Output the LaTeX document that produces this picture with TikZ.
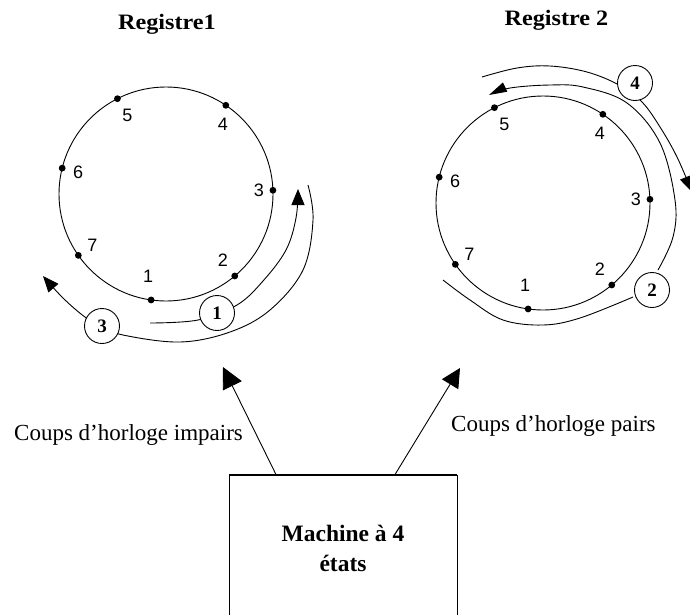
\documentclass[tikz,border=0pt]{standalone}
\usepackage{fontspec}
\setmainfont{Liberation Serif}
\newfontfamily\digitfont{Liberation Sans}
\usetikzlibrary{arrows.meta}
\begin{document}
\begin{tikzpicture}[x=1pt,y=-1pt,
  ln/.style={line width=0.9pt},
  smalltip/.style={-{Triangle[length=16pt,width=13pt]}},
  reg/.style={circle, draw, line width=0.9pt, minimum size=214pt, inner sep=0pt, outer sep=0pt},
  num/.style={font=\digitfont\fontsize{18}{18}\selectfont, inner sep=0pt},
  clk/.style={circle, draw, fill=white, line width=0.9pt, minimum size=35pt, inner sep=0pt, font=\bfseries\fontsize{19}{19}\selectfont},
  titlestyle/.style={font=\bfseries\fontsize{22}{22}\selectfont, anchor=base, inner sep=0pt},
  lbl/.style={font=\fontsize{23}{23}\selectfont, anchor=base west, inner sep=0pt},
]
\useasboundingbox (0,0) rectangle (690,614);
\clip (0,0) rectangle (690,614);

% titles
\node[titlestyle] (t1) at (167,29) {\scalebox{1.1}[1]{Registre1}};
\node[titlestyle] (t2) at (556.5,25) {\scalebox{1.1}[1]{Registre 2}};

% registers
\node[reg] (r1) at (166,194) {};
\node[reg] (r2) at (543,203) {};

\foreach \a/\n/\dx/\dy in {117/5/10/17, 56/4/-3/19, 2/3/-14/0, 310/2/-12/-16, 262/1/-3/-24, 215/7/14/-10, 166/6/16/4} {
  \fill (r1.\a) circle (3.4pt);
  \node[num] (la\n) at ([shift={(\dx,\dy)}]r1.\a) {\n};
  \fill (r2.\a) circle (3.4pt);
  \node[num] (lb\n) at ([shift={(\dx,\dy)}]r2.\a) {\n};
}

% left register shift paths
\draw[ln, smalltip] plot[smooth, tension=0.6] coordinates {(150,323) (198,320) (237,305) (263,281) (286,250) (296,218) (298,189)};
\draw[ln, smalltip] plot[smooth, tension=0.6] coordinates {(308,185) (313,220) (303,270) (270,310) (230,332) (180,342) (123,335) (102,326) (85,317) (63,298) (43,276)};

% right register shift paths
\draw[ln, smalltip] plot[smooth, tension=0.6] coordinates {(482,77) (517,68) (550,66) (587,72) (619,85) (642,102) (660,127) (677,157) (692,192)};
\draw[ln, -{Triangle[length=18pt,width=10pt]}] plot[smooth, tension=0.6] coordinates {(658,270) (673,237) (675,200) (660,143) (627,103) (583,87) (550,85) (510,88) (489,95)};
\draw[ln] plot[smooth, tension=0.6] coordinates {(633,297) (580,318) (543,325) (503,320) (470,300) (443,280)};

% clock step circles
\node[clk] (c1) at (217,313) {1};
\node[clk] (c2) at (652,290) {2};
\node[clk] (c3) at (102,326) {3};
\node[clk] (c4) at (635,83) {4};

% labels
\node[lbl] (odd) at (14,440) {Coups d'horloge impairs};
\node[lbl] (even) at (451,431) {Coups d'horloge pairs};

% machine
\node[draw, line width=0.9pt, minimum width=228pt, minimum height=146pt, align=center,
      font=\bfseries\fontsize{23.5}{30}\selectfont] (machine) at (343,548) {Machine à 4\\états};
\draw[line width=1.8pt] (machine.north west) -- (machine.north east);

\coordinate (h1) at (223,367);
\coordinate (h2) at (460,368);
\draw[ln, -{Triangle[length=21pt,width=21pt]}] ([xshift=-67pt]machine.north) -- (h1);
\draw[ln, -{Triangle[length=19pt,width=19pt]}] ([xshift=52pt]machine.north) -- (h2);
\end{tikzpicture}
\end{document}
